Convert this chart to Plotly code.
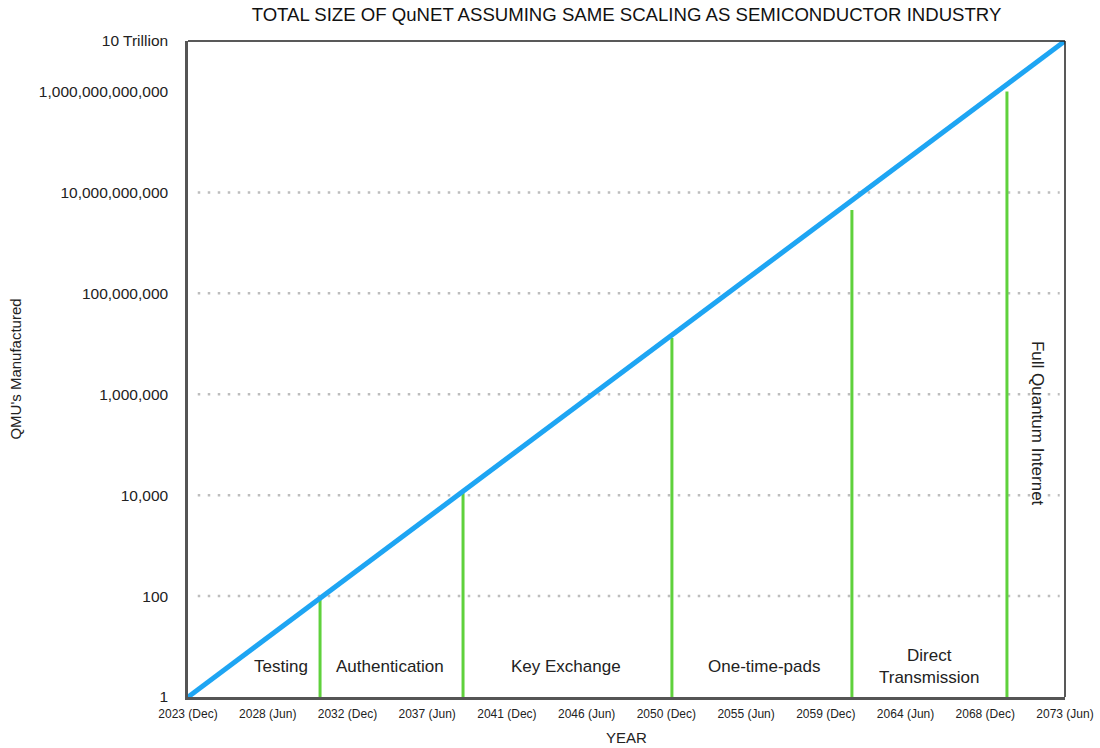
import numpy as np
import plotly.graph_objects as go

# Projected growth: 1 unit at the start, 10 trillion at the end (log-linear)
start_year = 2023 + 11 / 12          # 2023 (Dec)
end_year = 2073 + 5 / 12             # 2073 (Jun)
years = [start_year, end_year]
qmu_counts = [1, 1e13]

# x-axis ticks every 4.5 years
tick_years = [start_year + 4.5 * k for k in range(12)]
tick_text = ["2023 (Dec)", "2028 (Jun)", "2032 (Dec)", "2037 (Jun)", "2041 (Dec)",
             "2046 (Jun)", "2050 (Dec)", "2055 (Jun)", "2059 (Dec)", "2064 (Jun)",
             "2068 (Dec)", "2073 (Jun)"]

# y-axis ticks
y_ticks = [1, 1e2, 1e4, 1e6, 1e8, 1e10, 1e12, 1e13]
y_tick_text = ["1", "100", "10,000", "1,000,000", "100,000,000", "10,000,000,000",
               "1,000,000,000,000", "10 Trillion"]
grid_levels = [1e2, 1e4, 1e6, 1e8, 1e10]

# Phase boundaries (year, height of marker)
boundary_years = [2031.37, 2039.44, 2051.23, 2061.39, 2070.14]
boundary_heights = [88, 1.1e4, 1.3e7, 4.5e9, 1.0e12]

# Phase labels
phase_names = ["Testing", "Authentication", "Key Exchange", "One-time-pads",
               "Direct<br>Transmission"]
phase_x = [2029.17, 2035.32, 2045.25, 2056.43, 2065.74]
final_phase = "Full Quantum Internet"
final_phase_x = 2071.84

BLUE = "#1ea5f3"
GREEN = "#5fd13c"
FONT = "Liberation Sans, Arial, Helvetica, sans-serif"

fig = go.Figure()

# dotted horizontal guides
for lvl in grid_levels:
    fig.add_trace(go.Scatter(
        x=[start_year + 0.55, end_year - 0.3], y=[lvl, lvl], mode="lines",
        line=dict(color="#bdbdbd", width=2.5, dash="2.5px,7.5px"),
        hoverinfo="skip", showlegend=False))

# phase boundary markers
for bx, bh in zip(boundary_years, boundary_heights):
    fig.add_trace(go.Scatter(
        x=[bx, bx], y=[1, bh], mode="lines",
        line=dict(color=GREEN, width=3), hoverinfo="skip", showlegend=False))

# growth line
fig.add_trace(go.Scatter(
    x=years, y=qmu_counts, mode="lines",
    line=dict(color=BLUE, width=5), showlegend=False, cliponaxis=False))

# phase labels
for name, px in zip(phase_names, phase_x):
    fig.add_annotation(x=px, y=np.log10(4.1), text=name, showarrow=False,
                       font=dict(size=17, color="#222", family=FONT),
                       xanchor="center", yanchor="middle")

fig.add_annotation(x=final_phase_x, y=5.43, text=final_phase, showarrow=False,
                   textangle=90, font=dict(size=17, color="#222", family=FONT),
                   xanchor="center", yanchor="middle")

# top and right frame
fig.add_shape(type="line", xref="paper", yref="paper", x0=0, x1=1, y0=1, y1=1,
              line=dict(color="#222", width=1.5))
fig.add_shape(type="line", xref="paper", yref="paper", x0=1, x1=1, y0=0, y1=1,
              line=dict(color="#222", width=1.5))

fig.update_layout(
    width=1100, height=748,
    margin=dict(l=188, r=35, t=41, b=51, autoexpand=False),
    paper_bgcolor="white", plot_bgcolor="white",
    font=dict(family=FONT, color="#222"),
    title=dict(text="TOTAL SIZE OF QuNET ASSUMING SAME SCALING AS SEMICONDUCTOR INDUSTRY",
               x=(188 + 1065) / 2 / 1100, xanchor="center", y=0.981, yanchor="middle",
               font=dict(size=18.6, color="#111", family=FONT)),
    xaxis=dict(range=[start_year, end_year], tickvals=tick_years, ticktext=tick_text,
               showgrid=False, zeroline=False, showline=True, linecolor="#555",
               linewidth=2.5, ticks="", ticklabelstandoff=4,
               tickfont=dict(size=12, color="#222"), automargin=False,
               title=dict(text="YEAR", font=dict(size=15, color="#222"), standoff=13)),
    yaxis=dict(type="log", range=[0, 13], tickvals=y_ticks, ticktext=y_tick_text,
               showgrid=False, zeroline=False, showline=True, linecolor="#555",
               linewidth=2.5, ticks="", ticklabelstandoff=14, automargin=False,
               tickfont=dict(size=15.5, color="#222"),
               title=dict(text="QMU's Manufactured", font=dict(size=15, color="#222"),
                          standoff=14)),
)

fig.write_html("out.html")
